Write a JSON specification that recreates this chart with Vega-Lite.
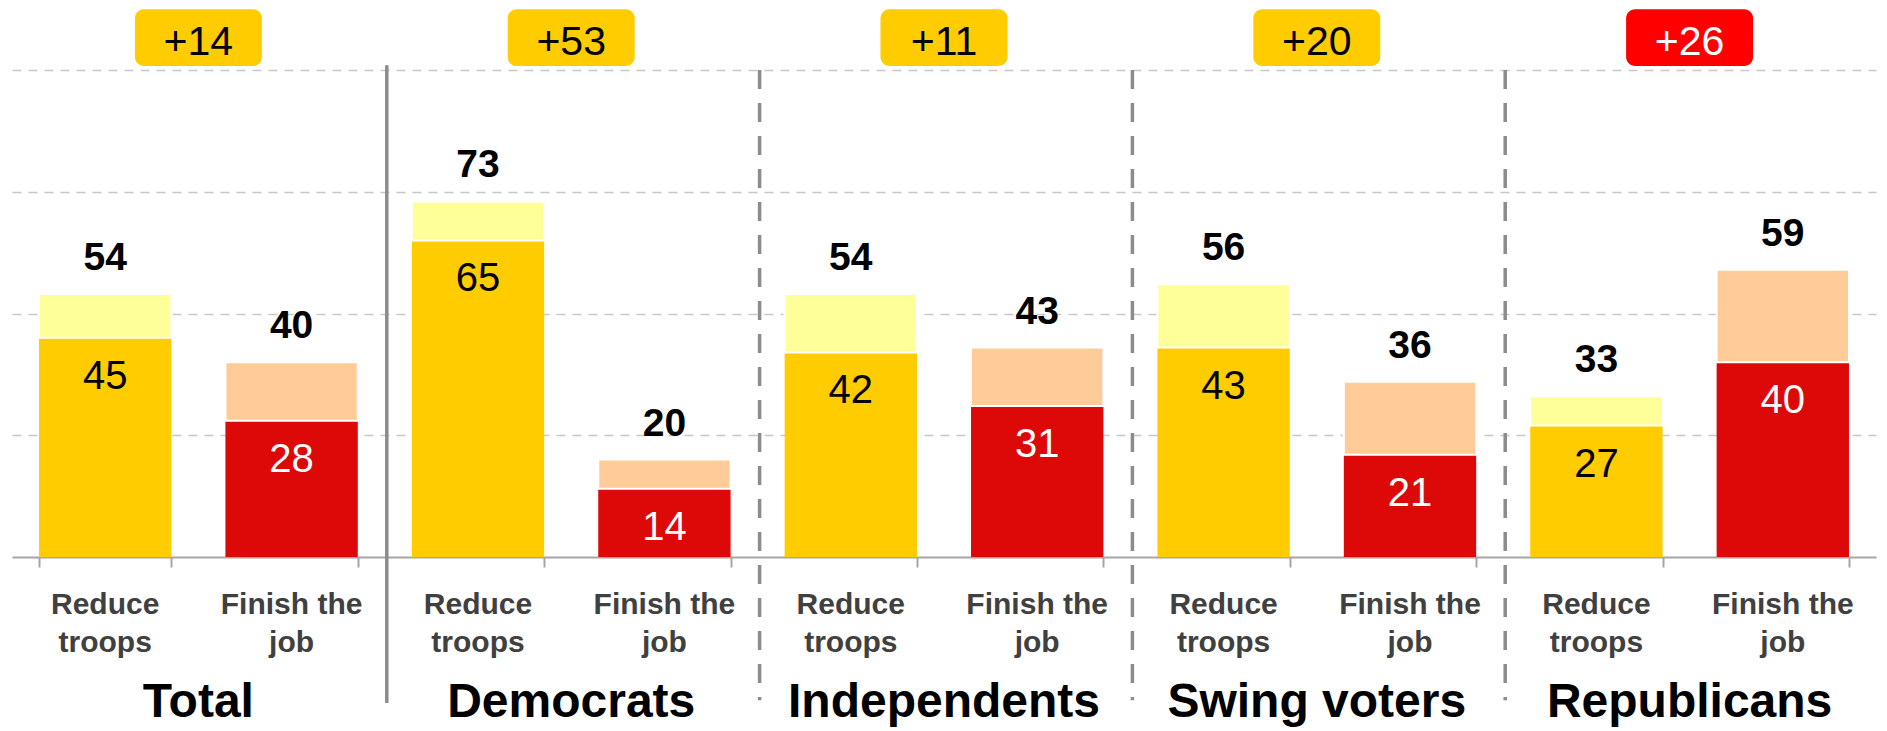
{
  "$schema": "https://vega.github.io/schema/vega-lite/v6.json",
  "autosize": {"type": "none"},
  "width": 1864,
  "height": 487,
  "padding": {"left": 12, "top": 70, "right": 11, "bottom": 174},
  "background": "white",
  "config": {"view": {"stroke": null}, "font": "Liberation Sans"},
  "data": {"values": [
      {"group": "Total", "key": "Total Reduce", "opt": "Reduce", "label": "Reduce\ntroops", "strong": 45, "total": 54, "margin": "+14", "leader": "Reduce"},
      {"group": "Total", "key": "Total Finish", "opt": "Finish", "label": "Finish the\njob", "strong": 28, "total": 40},
      {"group": "Democrats", "key": "Democrats Reduce", "opt": "Reduce", "label": "Reduce\ntroops", "strong": 65, "total": 73, "margin": "+53", "leader": "Reduce"},
      {"group": "Democrats", "key": "Democrats Finish", "opt": "Finish", "label": "Finish the\njob", "strong": 14, "total": 20},
      {"group": "Independents", "key": "Independents Reduce", "opt": "Reduce", "label": "Reduce\ntroops", "strong": 42, "total": 54, "margin": "+11", "leader": "Reduce"},
      {"group": "Independents", "key": "Independents Finish", "opt": "Finish", "label": "Finish the\njob", "strong": 31, "total": 43},
      {"group": "Swing voters", "key": "Swing voters Reduce", "opt": "Reduce", "label": "Reduce\ntroops", "strong": 43, "total": 56, "margin": "+20", "leader": "Reduce"},
      {"group": "Swing voters", "key": "Swing voters Finish", "opt": "Finish", "label": "Finish the\njob", "strong": 21, "total": 36},
      {"group": "Republicans", "key": "Republicans Reduce", "opt": "Reduce", "label": "Reduce\ntroops", "strong": 27, "total": 33, "margin": "+26", "leader": "Finish"},
      {"group": "Republicans", "key": "Republicans Finish", "opt": "Finish", "label": "Finish the\njob", "strong": 40, "total": 59}
  ]},
  "encoding": {
    "x": {
      "field": "key", "type": "nominal", "sort": null,
      "scale": {"paddingInner": 0.29, "paddingOuter": 0.145},
      "axis": {
        "title": null, "labels": false,
        "domainColor": "#a6a6a6", "domainWidth": 2,
        "tickColor": "#a6a6a6", "tickWidth": 2, "tickSize": 10, "tickBand": "extent"
      }
    }
  },
  "layer": [
    {
      "mark": {"type": "bar"},
      "encoding": {
        "y": {
          "field": "strong", "type": "quantitative",
          "scale": {"domain": [0, 100], "nice": false},
          "axis": {
            "title": null, "labels": false, "ticks": false, "domain": false,
            "grid": true, "gridColor": "#c8c8c8", "gridDash": [9, 7], "gridWidth": 1.5,
            "values": [25, 50, 75, 100]
          }
        },
        "color": {"condition": {"test": "datum.opt === 'Reduce'", "value": "#FFCC00"}, "value": "#DD0808"}
      }
    },
    {
      "mark": {"type": "bar", "stroke": "white", "strokeWidth": 2},
      "encoding": {
        "y": {"field": "total", "type": "quantitative"},
        "y2": {"field": "strong"},
        "color": {"condition": {"test": "datum.opt === 'Reduce'", "value": "#FFFF99"}, "value": "#FFCC99"}
      }
    },
    {
      "mark": {"type": "text", "fontSize": 39, "fontWeight": "bold", "baseline": "alphabetic", "dy": -24, "color": "black"},
      "encoding": {
        "y": {"field": "total", "type": "quantitative"},
        "text": {"field": "total", "type": "quantitative"}
      }
    },
    {
      "mark": {"type": "text", "fontSize": 40, "baseline": "alphabetic", "dy": 51},
      "encoding": {
        "y": {"field": "strong", "type": "quantitative"},
        "text": {"field": "strong", "type": "quantitative"},
        "color": {"condition": {"test": "datum.opt === 'Reduce'", "value": "black"}, "value": "white"}
      }
    },
    {
      "mark": {"type": "text", "fontSize": 30, "fontWeight": "bold", "baseline": "alphabetic", "lineBreak": "\n", "lineHeight": 38, "color": "#404040"},
      "encoding": {
        "y": {"datum": -11.7, "type": "quantitative"},
        "text": {"field": "label", "type": "nominal"}
      }
    },
    {
      "transform": [{"filter": "datum.margin != null && datum.group !== 'Total' && datum.group !== 'Democrats'"}],
      "mark": {"type": "rule", "strokeWidth": 3.5, "color": "#8c8c8c", "strokeDash": [19, 14], "xOffset": 2},
      "encoding": {
        "x": {"field": "key", "type": "nominal", "bandPosition": -0.2042},
        "y": {"datum": 100, "type": "quantitative"},
        "y2": {"datum": -29.4}
      }
    },
    {
      "transform": [{"filter": "datum.margin != null && datum.group === 'Democrats'"}],
      "mark": {"type": "rule", "strokeWidth": 3.5, "color": "#8c8c8c", "xOffset": 2},
      "encoding": {
        "x": {"field": "key", "type": "nominal", "bandPosition": -0.2042},
        "y": {"datum": 101, "type": "quantitative"},
        "y2": {"datum": -30}
      }
    },
    {
      "transform": [{"filter": "datum.margin != null"}],
      "mark": {"type": "bar", "width": 127, "cornerRadius": 9, "xOffset": 93.2},
      "encoding": {
        "y": {"datum": 100.8, "type": "quantitative"},
        "y2": {"datum": 112.5},
        "color": {"condition": {"test": "datum.leader === 'Finish'", "value": "#FF0000"}, "value": "#FFCC00"}
      }
    },
    {
      "transform": [{"filter": "datum.margin != null"}],
      "mark": {"type": "text", "fontSize": 41, "baseline": "alphabetic"},
      "encoding": {
        "x": {"field": "key", "type": "nominal", "bandPosition": 1.2042},
        "y": {"datum": 103.1, "type": "quantitative"},
        "text": {"field": "margin", "type": "nominal"},
        "color": {"condition": {"test": "datum.leader === 'Finish'", "value": "white"}, "value": "black"}
      }
    },
    {
      "transform": [{"filter": "datum.margin != null"}],
      "mark": {"type": "text", "fontSize": 48, "fontWeight": "bold", "baseline": "alphabetic", "color": "black"},
      "encoding": {
        "x": {"field": "key", "type": "nominal", "bandPosition": 1.2042},
        "y": {"datum": -32.85, "type": "quantitative"},
        "text": {"field": "group", "type": "nominal"}
      }
    }
  ]
}
